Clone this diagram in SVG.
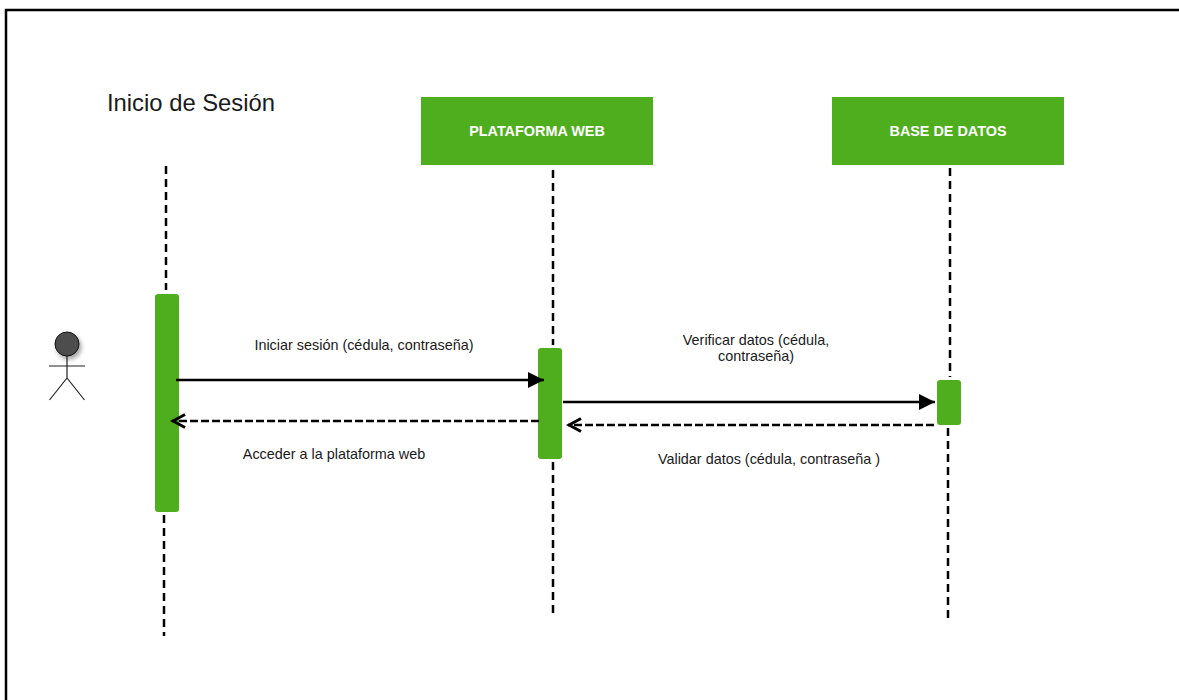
<svg xmlns="http://www.w3.org/2000/svg" width="1179" height="700" viewBox="0 0 1179 700">
<style>
text{font-family:"Liberation Sans",Arial,sans-serif;fill:#1a1a1a;font-size:14.400px;text-anchor:middle}
.hd{fill:#4fae1e;stroke:none}
.hdt{fill:#fff;font-weight:bold;font-size:14.400px}
.act{fill:#4fae1e;stroke:none}
.life{stroke:#000;stroke-width:2.500;stroke-dasharray:8 5;fill:none}
.msg{stroke:#000;stroke-width:2.500;fill:none}
.ret{stroke:#000;stroke-width:2.500;stroke-dasharray:8 3;fill:none}
.st{stroke:#222;stroke-width:1.200;fill:none}
</style>
<defs>
<marker id="solid" markerUnits="userSpaceOnUse" markerWidth="17" markerHeight="18" refX="16" refY="9" orient="auto"><path d="M0,1 L16,9 L0,17 Z" fill="#000"/></marker>
<marker id="open" markerUnits="userSpaceOnUse" markerWidth="17" markerHeight="16" refX="15" refY="8" orient="auto"><path d="M2,1.500 L14,8 L2,14.500" fill="none" stroke="#000" stroke-width="3"/></marker>
<filter id="sh" x="-40%" y="-40%" width="200%" height="200%"><feGaussianBlur stdDeviation="2"/></filter>
</defs>
<rect x="6" y="10" width="1180" height="700" fill="#fff" stroke="#000" stroke-width="2.500"/>
<text x="191" y="111" style="font-size:23.800px">Inicio de Sesión</text>
<g id="actor">
<circle cx="69" cy="347" r="12.500" fill="#000" opacity=".35" filter="url(#sh)"/>
<circle cx="67" cy="344" r="12" fill="#4d4d4d" stroke="#111" stroke-width="1"/>
<path class="st" d="M67,356 V378 M49,366 H85 M67,378 L49.500,400 M67,378 L84.500,400"/>
</g>
<g id="plataforma"><rect class="hd" x="421" y="97" width="232" height="68"/><text class="hdt" x="537" y="136">PLATAFORMA WEB</text></g>
<g id="base"><rect class="hd" x="832" y="97" width="232" height="68"/><text class="hdt" x="948" y="136">BASE DE DATOS</text></g>
<g id="act-actor"><rect class="act" x="155" y="294" width="24" height="218" rx="3"/></g>
<g id="act-web"><rect class="act" x="538" y="348" width="24" height="111" rx="3"/></g>
<g id="act-db"><rect class="act" x="937" y="380" width="24" height="45" rx="3"/></g>
<g id="connectors">
<path class="life" d="M166,166 V290"/><path class="life" d="M164,515 V636"/>
<path class="life" d="M553,170 V345"/><path class="life" d="M553,462 V614"/>
<path class="life" d="M950,168 V377"/><path class="life" d="M948,428 V618"/>
<path class="msg" marker-end="url(#solid)" d="M176,380 H544"/>
<path class="ret" marker-end="url(#open)" d="M539,421 H172"/>
<path class="msg" marker-end="url(#solid)" d="M563,402 H935"/>
<path class="ret" marker-end="url(#open)" d="M934,425 H568"/>
</g>
<text x="364" y="350">Iniciar sesión (cédula, contraseña)</text>
<text x="334" y="459">Acceder a la plataforma web</text>
<text x="756" y="345">Verificar datos (cédula,</text>
<text x="756" y="361">contraseña)</text>
<text x="769" y="464">Validar datos (cédula, contraseña )</text>
</svg>
